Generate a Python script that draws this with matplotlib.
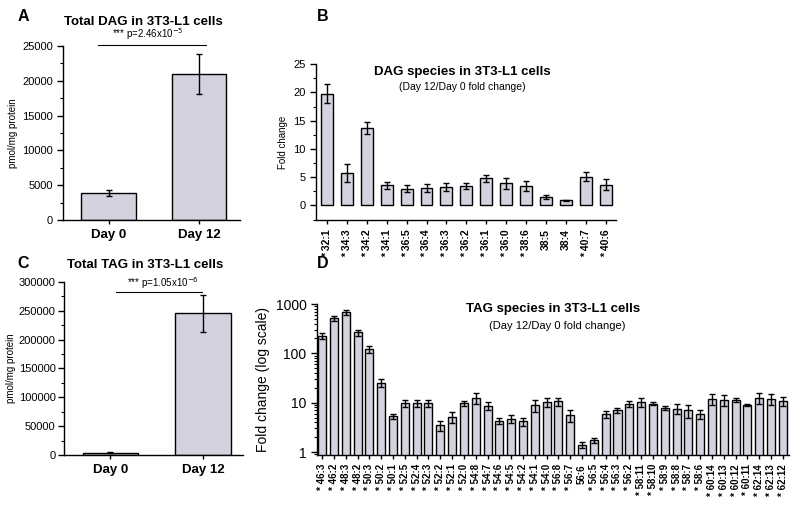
import numpy as np
import matplotlib
matplotlib.use('Agg')
import matplotlib.pyplot as pp
from matplotlib.ticker import MultipleLocator, LogLocator, NullFormatter

pp.rcParams['font.family'] = ['Liberation Sans', 'DejaVu Sans']

# Panel A / C: totals
day_labels = ['Day 0', 'Day 12']
dag_total = [3900, 21000]
dag_total_err = [500, 2900]
tag_total = [4000, 246000]
tag_total_err = [1000, 32000]

# Panel B: DAG species fold change
dag_species = ['* 32:1', '* 34:3', '* 34:2', '* 34:1', '* 36:5', '* 36:4', '* 36:3', '* 36:2',
               '* 36:1', '* 36:0', '* 38:6', '38:5', '38:4', '* 40:7', '* 40:6']
dag_fold = [19.8, 5.7, 13.7, 3.6, 3.0, 3.1, 3.3, 3.5, 4.8, 3.9, 3.4, 1.5, 0.9, 5.1, 3.7]
dag_fold_err = [1.6, 1.6, 1.0, 0.6, 0.7, 0.7, 0.7, 0.5, 0.6, 1.0, 0.9, 0.3, 0.15, 0.8, 0.9]

# Panel D: TAG species fold change
tag_species = ['* 46:3', '* 46:2', '* 48:3', '* 48:2', '* 50:3', '* 50:2', '* 50:1', '* 52:5',
               '* 52:4', '* 52:3', '* 52:2', '* 52:1', '* 52:0', '* 54:8', '* 54:7', '* 54:6',
               '* 54:5', '* 54:2', '* 54:1', '* 54:0', '* 56:8', '* 56:7', '56:6', '* 56:5',
               '* 56:4', '* 56:3', '* 56:2', '* 58:11', '* 58:10', '* 58:9', '* 58:8', '* 58:7',
               '* 58:6', '* 60:14', '* 60:13', '* 60:12', '* 60:11', '* 62:14', '* 62:13', '* 62:12']
tag_fold = [225, 520, 680, 265, 122, 25.5, 5.3, 9.7, 9.7, 9.8, 3.5, 5.2, 9.7, 12.5, 8.7, 4.3,
            4.7, 4.2, 9.0, 10.3, 10.6, 5.5, 1.4, 1.75, 5.8, 7.0, 9.5, 10.5, 9.6, 7.8, 7.6, 7.0,
            5.8, 11.8, 11.5, 11.5, 9.0, 12.5, 11.8, 10.8]
tag_fold_err = [30, 60, 80, 35, 20, 5, 0.7, 1.5, 1.5, 1.8, 0.8, 1.3, 1.0, 3.0, 1.5, 0.6,
                0.9, 0.8, 2.5, 2.0, 2.0, 1.5, 0.2, 0.2, 0.9, 0.9, 1.3, 2.2, 0.8, 0.6, 1.6, 2.0,
                1.2, 3.0, 3.0, 1.2, 0.6, 3.0, 3.0, 2.3]

BAR = '#d3d3df'
ERR = dict(ecolor='black', elinewidth=1.0, capsize=2.5, capthick=1.0)


def style_axes(ax):
    for s in ['top', 'right']:
        ax.spines[s].set_visible(False)
    for s in ['left', 'bottom']:
        ax.spines[s].set_linewidth(1.0)
    ax.tick_params(which='major', direction='out', length=4, width=1.0, labelsize=8)
    ax.tick_params(which='minor', direction='out', length=2, width=0.8)


fig = pp.figure(figsize=(8, 5.05), dpi=100)

# ---- A ----
axA = fig.add_axes([0.079, 0.564, 0.221, 0.345])
x = np.arange(len(day_labels))
axA.bar(x, dag_total, width=0.6, color=BAR, edgecolor='black', linewidth=1.0,
        yerr=dag_total_err, error_kw=ERR)
axA.set_xlim(-0.5, 1.45)
axA.set_ylim(0, 25000)
axA.set_xticks(x)
axA.set_xticklabels(day_labels, fontsize=9.5, fontweight='bold')
axA.yaxis.set_major_locator(MultipleLocator(5000))
axA.yaxis.set_minor_locator(MultipleLocator(2500))
axA.set_ylabel('pmol/mg protein', fontsize=7, labelpad=3)
style_axes(axA)
axA.tick_params(axis='x', length=3, labelsize=9.5)
axA.plot([-0.12, 1.07], [25140, 25140], color='black', lw=0.8, clip_on=False)
axA.text(0.43, 25500, r'*** p=2.46x10$^{-5}$', ha='center', va='bottom', fontsize=7)
fig.text(0.179, 0.956, 'Total DAG in 3T3-L1 cells', ha='center', va='center',
         fontsize=9.5, fontweight='bold')
fig.text(0.022, 0.968, 'A', ha='left', va='center', fontsize=11.5, fontweight='bold')

# ---- B ----
axB = fig.add_axes([0.395, 0.564, 0.375, 0.309])
xb = np.arange(len(dag_species))
axB.bar(xb, dag_fold, width=0.6, color=BAR, edgecolor='black', linewidth=1.0,
        yerr=dag_fold_err, error_kw=ERR)
axB.set_xlim(-0.54, len(dag_species) - 0.5)
axB.set_ylim(-2.6, 25)
axB.set_xticks(xb)
axB.set_xticklabels(dag_species, rotation=90, fontsize=7.5, fontweight='bold')
axB.yaxis.set_major_locator(MultipleLocator(5))
axB.yaxis.set_minor_locator(MultipleLocator(2.5))
axB.set_ylabel('Fold change', fontsize=7)
style_axes(axB)
axB.tick_params(axis='x', length=3, labelsize=7.5)
fig.text(0.578, 0.857, 'DAG species in 3T3-L1 cells', ha='center', va='center',
         fontsize=9.5, fontweight='bold')
fig.text(0.578, 0.828, '(Day 12/Day 0 fold change)', ha='center', va='center', fontsize=7.5)
fig.text(0.396, 0.968, 'B', ha='left', va='center', fontsize=11.5, fontweight='bold')

# ---- C ----
axC = fig.add_axes([0.080, 0.099, 0.224, 0.3426])
axC.bar(x, tag_total, width=0.6, color=BAR, edgecolor='black', linewidth=1.0,
        yerr=tag_total_err, error_kw=ERR)
axC.set_xlim(-0.5, 1.43)
axC.set_ylim(0, 300000)
axC.set_xticks(x)
axC.set_xticklabels(day_labels, fontsize=9.5, fontweight='bold')
axC.yaxis.set_major_locator(MultipleLocator(50000))
axC.yaxis.set_minor_locator(MultipleLocator(25000))
axC.set_ylabel('pmol/mg protein', fontsize=7, labelpad=2)
style_axes(axC)
axC.tick_params(axis='x', length=3, labelsize=9.5)
axC.tick_params(axis='y', which='major', pad=2)
axC.plot([0.065, 0.99], [282700, 282700], color='black', lw=0.8, clip_on=False)
axC.text(0.56, 285000, r'*** p=1.05x10$^{-6}$', ha='center', va='bottom', fontsize=7)
fig.text(0.181, 0.475, 'Total TAG in 3T3-L1 cells', ha='center', va='center',
         fontsize=9.5, fontweight='bold')
fig.text(0.022, 0.479, 'C', ha='left', va='center', fontsize=11.5, fontweight='bold')

# ---- D ----
axD = fig.add_axes([0.396, 0.099, 0.590, 0.299])
xd = np.arange(len(tag_species))
axD.bar(xd, tag_fold, width=0.68, color=BAR, edgecolor='black', linewidth=1.0,
        yerr=tag_fold_err, error_kw=ERR)
axD.set_yscale('log')
axD.set_xlim(-0.45, len(tag_species) - 0.5)
axD.set_ylim(0.87, 1000)
axD.set_xticks(xd)
axD.set_xticklabels(tag_species, rotation=90, fontsize=7, fontweight='bold')
axD.yaxis.set_major_locator(LogLocator(base=10, numticks=10))
axD.yaxis.set_minor_locator(LogLocator(base=10, subs=np.arange(2, 10) * 0.1, numticks=10))
axD.yaxis.set_minor_formatter(NullFormatter())
axD.set_yticks([1, 10, 100, 1000])
axD.set_yticklabels(['1', '10', '100', '1000'])
axD.set_ylabel('Fold change (log scale)', fontsize=10)
style_axes(axD)
axD.tick_params(axis='x', length=3, labelsize=7)
axD.tick_params(axis='y', which='major', labelsize=10)
fig.text(0.691, 0.388, 'TAG species in 3T3-L1 cells', ha='center', va='center',
         fontsize=9.5, fontweight='bold')
fig.text(0.696, 0.355, '(Day 12/Day 0 fold change)', ha='center', va='center', fontsize=8)
fig.text(0.396, 0.479, 'D', ha='left', va='center', fontsize=11.5, fontweight='bold')

fig.savefig('out.png', dpi=100)
